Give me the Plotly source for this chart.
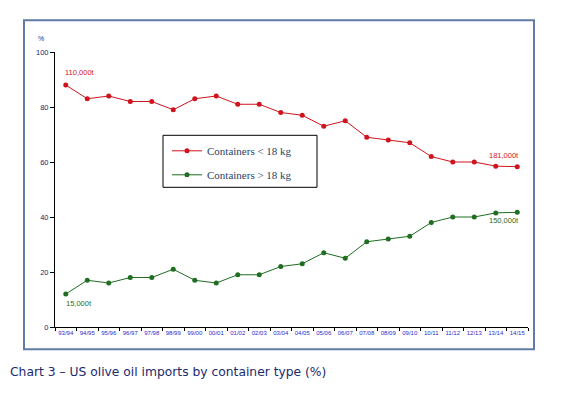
import plotly.graph_objects as go

seasons = ["93/94", "94/95", "95/96", "96/97", "97/98", "98/99", "99/00", "00/01",
           "01/02", "02/03", "03/04", "04/05", "05/06", "06/07", "07/08", "08/09",
           "09/10", "10/11", "11/12", "12/13", "13/14", "14/15"]
small_containers = [88, 83, 84, 82, 82, 79, 83, 84, 81, 81, 78, 77, 73, 75, 69, 68,
                    67, 62, 60, 60, 58.5, 58.3]
large_containers = [12, 17, 16, 18, 18, 21, 17, 16, 19, 19, 22, 23, 27, 25, 31, 32,
                    33, 38, 40, 40, 41.5, 41.7]
y_ticks = [0, 20, 40, 60, 80, 100]

RED = "#d0141e"
GREEN = "#1f6e22"

fig = go.Figure()
fig.add_trace(go.Scatter(
    x=seasons, y=small_containers, mode="lines+markers", name="Containers < 18 kg",
    line=dict(color=RED, width=1), marker=dict(color=RED, size=5),
    legendgroup="a"))
fig.add_trace(go.Scatter(
    x=seasons, y=large_containers, mode="lines+markers", name="Containers > 18 kg",
    line=dict(color=GREEN, width=1), marker=dict(color=GREEN, size=5),
    legendgroup="b"))

# target plot-area edges in screen pixels (page body adds an 8px offset)
OFF = 8
L, R, T, B = 55, 528, 51.7, 326.7
W, H = R - L, B - T


def px(x):
    return (x - L) / W


def py(y):
    return (B - y) / H


shapes = [
    # outer frame
    dict(type="rect", xref="paper", yref="paper", x0=px(24), x1=px(534), y0=py(349), y1=py(20),
         line=dict(color="#5f7ba6", width=2), layer="below"),
    # legend box
    dict(type="rect", xref="paper", yref="paper", x0=px(163), x1=px(317), y0=py(187), y1=py(135),
         line=dict(color="#000000", width=1)),
]

annotations = [
    dict(text="110,000t", x=seasons[0], y=small_containers[0], xref="x", yref="y",
         xanchor="left", yanchor="bottom", xshift=-3, yshift=6, showarrow=False,
         font=dict(family="Arial", size=7.5, color=RED)),
    dict(text="181,000t", x=seasons[-1], y=small_containers[-1], xref="x", yref="y",
         xanchor="right", yanchor="bottom", xshift=4, yshift=5, showarrow=False,
         font=dict(family="Arial", size=7.5, color=RED)),
    dict(text="150,000t", x=seasons[-1], y=large_containers[-1], xref="x", yref="y",
         xanchor="right", yanchor="top", xshift=4, yshift=-2, showarrow=False,
         font=dict(family="Arial", size=7.5, color=GREEN)),
    dict(text="15,000t", x=seasons[0], y=large_containers[0], xref="x", yref="y",
         xanchor="left", yanchor="top", xshift=-2, yshift=-3, showarrow=False,
         font=dict(family="Arial", size=7.5, color=GREEN)),
    dict(text="%", x=px(41), y=py(38), xref="paper", yref="paper", showarrow=False,
         xanchor="center", yanchor="middle", font=dict(family="Arial", size=7, color="#2a2a80")),
    dict(text="Chart 3 – US olive oil imports by container type (%)", x=px(8), y=py(372),
         xref="paper", yref="paper", showarrow=False, xanchor="left", yanchor="middle",
         font=dict(family="DejaVu Sans", size=12.3, color="#1c2a6e")),
]

fig.update_layout(
    width=567, height=398,
    margin=dict(l=L - OFF, r=567 - R + OFF, t=T - OFF, b=398 - B + OFF),
    paper_bgcolor="white", plot_bgcolor="white",
    showlegend=True,
    legend=dict(x=px(167), y=py(136), xanchor="left", yanchor="top",
                bgcolor="rgba(0,0,0,0)", borderwidth=0,
                traceorder="grouped", tracegroupgap=5,
                itemwidth=30,
                font=dict(family="Liberation Serif", size=11)),
    shapes=shapes, annotations=annotations,
    xaxis=dict(type="category", range=[-0.5, len(seasons) - 0.5],
               showline=True, linecolor="black", linewidth=1,
               ticks="outside", tickson="boundaries", ticklen=3, tickcolor="black",
               showgrid=False, zeroline=False, tickangle=0,
               tickfont=dict(family="Arial", size=6, color="#2a2ad0")),
    yaxis=dict(range=[0, 100], tickvals=y_ticks,
               showline=True, linecolor="black", linewidth=1,
               ticks="outside", ticklen=4, tickcolor="black",
               showgrid=False, zeroline=False,
               tickfont=dict(family="Arial", size=7.5, color="#22226e")),
)

fig.write_html("out.html")
